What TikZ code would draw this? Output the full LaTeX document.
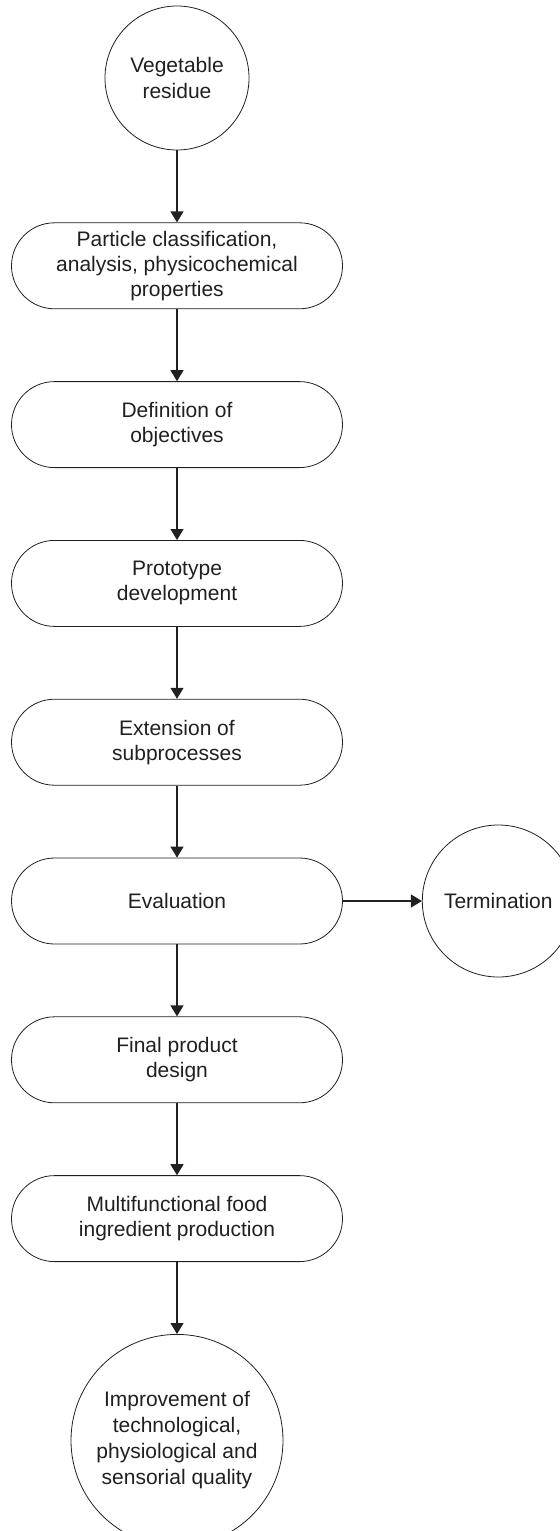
\documentclass[tikz,border=0pt]{standalone}
\usepackage{fontspec}
\setmainfont{Liberation Sans}
\usetikzlibrary{arrows.meta,positioning}
\definecolor{ink}{HTML}{231F20}

\begin{document}
\begin{tikzpicture}[
  node distance=36pt and 39.5pt,
  stage/.style={draw=ink,fill=white,rounded corners=21.5pt,minimum width=165.5pt,minimum height=43pt,inner sep=1pt,font=\fontsize{10.5}{12.5}\selectfont,text=ink,align=center},
  terminal/.style={draw=ink,fill=white,circle,inner sep=0pt,font=\fontsize{10.5}{13}\selectfont,text=ink,align=center},
  arrow/.style={-{Triangle[length=5.5pt,width=6.5pt]},line width=0.6pt,color=ink}
]
\useasboundingbox (0,0) rectangle (279.5pt,-765.5pt);
\node[terminal,minimum size=72pt] (a) at (88.5pt,-39pt) {Vegetable\\residue};
\node[stage,below=of a] (b) {Particle classification,\\analysis, physicochemical\\properties};
\node[stage,below=of b] (c) {Definition of\\objectives};
\node[stage,below=of c] (d) {Prototype\\development};
\node[stage,below=of d] (e) {Extension of\\subprocesses};
\node[stage,below=of e] (f) {Evaluation};
\node[terminal,minimum size=76pt,right=of f] (g) {Termination};
\node[stage,below=of f] (h) {Final product\\design};
\node[stage,below=of h] (i) {Multifunctional food\\ingredient production};
\node[terminal,minimum size=106pt,below=of i] (j) {Improvement of\\technological,\\physiological and\\sensorial quality};
\draw[arrow] (a) -- (b);
\draw[arrow] (b) -- (c);
\draw[arrow] (c) -- (d);
\draw[arrow] (d) -- (e);
\draw[arrow] (e) -- (f);
\draw[arrow] (f) -- (g);
\draw[arrow] (f) -- (h);
\draw[arrow] (h) -- (i);
\draw[arrow] (i) -- (j);
\end{tikzpicture}
\end{document}
